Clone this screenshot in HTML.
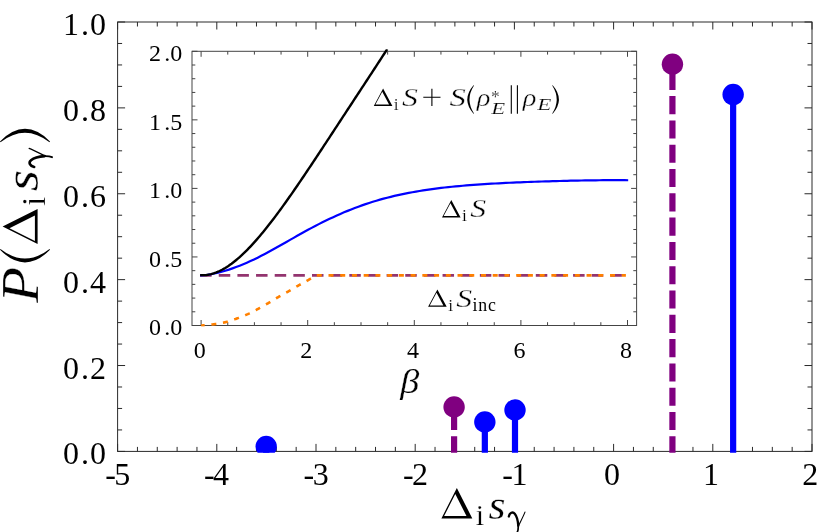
<!DOCTYPE html>
<html><head><meta charset="utf-8"><title>plot</title>
<style>
html,body{margin:0;padding:0;background:#fff;}
body{width:831px;height:532px;overflow:hidden;}
svg{display:block;will-change:transform;}
.t{font-family:"Liberation Serif",serif;fill:#000;}
.m{stroke:#fff;paint-order:fill stroke;}
</style></head><body>
<svg width="831" height="532" viewBox="0 0 831 532">
<rect width="831" height="532" fill="#fff"/>
<path d="M117.60 451.40v-7.50M117.60 22.00v7.50M137.44 451.40v-4.50M137.44 22.00v4.50M157.28 451.40v-4.50M157.28 22.00v4.50M177.12 451.40v-4.50M177.12 22.00v4.50M196.96 451.40v-4.50M196.96 22.00v4.50M216.80 451.40v-7.50M216.80 22.00v7.50M236.64 451.40v-4.50M236.64 22.00v4.50M256.48 451.40v-4.50M256.48 22.00v4.50M276.32 451.40v-4.50M276.32 22.00v4.50M296.16 451.40v-4.50M296.16 22.00v4.50M316.00 451.40v-7.50M316.00 22.00v7.50M335.84 451.40v-4.50M335.84 22.00v4.50M355.68 451.40v-4.50M355.68 22.00v4.50M375.52 451.40v-4.50M375.52 22.00v4.50M395.36 451.40v-4.50M395.36 22.00v4.50M415.20 451.40v-7.50M415.20 22.00v7.50M435.04 451.40v-4.50M435.04 22.00v4.50M454.88 451.40v-4.50M454.88 22.00v4.50M474.72 451.40v-4.50M474.72 22.00v4.50M494.56 451.40v-4.50M494.56 22.00v4.50M514.40 451.40v-7.50M514.40 22.00v7.50M534.24 451.40v-4.50M534.24 22.00v4.50M554.08 451.40v-4.50M554.08 22.00v4.50M573.92 451.40v-4.50M573.92 22.00v4.50M593.76 451.40v-4.50M593.76 22.00v4.50M613.60 451.40v-7.50M613.60 22.00v7.50M633.44 451.40v-4.50M633.44 22.00v4.50M653.28 451.40v-4.50M653.28 22.00v4.50M673.12 451.40v-4.50M673.12 22.00v4.50M692.96 451.40v-4.50M692.96 22.00v4.50M712.80 451.40v-7.50M712.80 22.00v7.50M732.64 451.40v-4.50M732.64 22.00v4.50M752.48 451.40v-4.50M752.48 22.00v4.50M772.32 451.40v-4.50M772.32 22.00v4.50M792.16 451.40v-4.50M792.16 22.00v4.50M812.00 451.40v-7.50M812.00 22.00v7.50M117.60 451.40h7.50M812.00 451.40h-7.50M117.60 429.93h4.50M812.00 429.93h-4.50M117.60 408.46h4.50M812.00 408.46h-4.50M117.60 386.99h4.50M812.00 386.99h-4.50M117.60 365.52h7.50M812.00 365.52h-7.50M117.60 344.05h4.50M812.00 344.05h-4.50M117.60 322.58h4.50M812.00 322.58h-4.50M117.60 301.11h4.50M812.00 301.11h-4.50M117.60 279.64h7.50M812.00 279.64h-7.50M117.60 258.17h4.50M812.00 258.17h-4.50M117.60 236.70h4.50M812.00 236.70h-4.50M117.60 215.23h4.50M812.00 215.23h-4.50M117.60 193.76h7.50M812.00 193.76h-7.50M117.60 172.29h4.50M812.00 172.29h-4.50M117.60 150.82h4.50M812.00 150.82h-4.50M117.60 129.35h4.50M812.00 129.35h-4.50M117.60 107.88h7.50M812.00 107.88h-7.50M117.60 86.41h4.50M812.00 86.41h-4.50M117.60 64.94h4.50M812.00 64.94h-4.50M117.60 43.47h4.50M812.00 43.47h-4.50M117.60 22.00h7.50M812.00 22.00h-7.50" stroke="#2a2a2a" stroke-width="1" fill="none"/>
<rect x="117.60" y="22.00" width="694.40" height="429.40" fill="none" stroke="#2a2a2a" stroke-width="1"/>
<text class="t" font-size="32" x="62.9 81.0 89.9" y="464.40">0.0</text>
<text class="t" font-size="32" x="62.9 81.0 89.9" y="378.52">0.2</text>
<text class="t" font-size="32" x="62.9 81.0 89.9" y="292.64">0.4</text>
<text class="t" font-size="32" x="62.9 81.0 89.9" y="206.76">0.6</text>
<text class="t" font-size="32" x="62.9 81.0 89.9" y="120.88">0.8</text>
<text class="t" font-size="32" x="62.9 81.0 89.9" y="35.00">1.0</text>
<text class="t" font-size="32" x="105.20 114.26" y="484.5">-5</text>
<text class="t" font-size="32" x="204.03 213.08" y="484.5">-4</text>
<text class="t" font-size="32" x="303.60 312.66" y="484.5">-3</text>
<text class="t" font-size="32" x="403.06 412.12" y="484.5">-2</text>
<text class="t" font-size="32" x="502.34 511.40" y="484.5">-1</text>
<text class="t" font-size="32" text-anchor="middle" x="611.90" y="484.5">0</text>
<text class="t" font-size="32" text-anchor="middle" x="711.10" y="484.5">1</text>
<text class="t" font-size="32" text-anchor="middle" x="810.30" y="484.5">2</text>
<clipPath id="cm"><rect x="117.60" y="0" width="694.40" height="452.80"/></clipPath>
<g clip-path="url(#cm)">
<line x1="266.20" y1="453.00" x2="266.20" y2="446.46" stroke="#0000ff" stroke-width="6.2"/>
<circle cx="266.20" cy="446.46" r="10.7" fill="#0000ff"/>
<line x1="454.09" y1="454.40" x2="454.09" y2="406.96" stroke="#800080" stroke-width="6.2" stroke-dasharray="18.1 6.2"/>
<circle cx="454.09" cy="406.96" r="10.7" fill="#800080"/>
<line x1="484.84" y1="453.00" x2="484.84" y2="421.99" stroke="#0000ff" stroke-width="6.2"/>
<circle cx="484.84" cy="421.99" r="10.7" fill="#0000ff"/>
<line x1="515.00" y1="453.00" x2="515.00" y2="410.01" stroke="#0000ff" stroke-width="6.2"/>
<circle cx="515.00" cy="410.01" r="10.7" fill="#0000ff"/>
<line x1="672.43" y1="454.40" x2="672.43" y2="64.21" stroke="#800080" stroke-width="6.2" stroke-dasharray="18.1 6.2"/>
<circle cx="672.43" cy="64.21" r="10.7" fill="#800080"/>
<line x1="733.14" y1="453.00" x2="733.14" y2="94.57" stroke="#0000ff" stroke-width="6.2"/>
<circle cx="733.14" cy="94.57" r="10.7" fill="#0000ff"/>
</g>
<rect x="192.00" y="51.30" width="444.60" height="274.20" fill="#fff"/>
<path d="M201.10 325.50v-5.50M201.10 51.30v5.50M227.75 325.50v-3.30M227.75 51.30v3.30M254.40 325.50v-3.30M254.40 51.30v3.30M281.05 325.50v-3.30M281.05 51.30v3.30M307.70 325.50v-5.50M307.70 51.30v5.50M334.35 325.50v-3.30M334.35 51.30v3.30M361.00 325.50v-3.30M361.00 51.30v3.30M387.65 325.50v-3.30M387.65 51.30v3.30M414.30 325.50v-5.50M414.30 51.30v5.50M440.95 325.50v-3.30M440.95 51.30v3.30M467.60 325.50v-3.30M467.60 51.30v3.30M494.25 325.50v-3.30M494.25 51.30v3.30M520.90 325.50v-5.50M520.90 51.30v5.50M547.55 325.50v-3.30M547.55 51.30v3.30M574.20 325.50v-3.30M574.20 51.30v3.30M600.85 325.50v-3.30M600.85 51.30v3.30M627.50 325.50v-5.50M627.50 51.30v5.50M192.00 325.50h5.50M636.60 325.50h-5.50M192.00 311.79h3.30M636.60 311.79h-3.30M192.00 298.08h3.30M636.60 298.08h-3.30M192.00 284.37h3.30M636.60 284.37h-3.30M192.00 270.66h3.30M636.60 270.66h-3.30M192.00 256.95h5.50M636.60 256.95h-5.50M192.00 243.24h3.30M636.60 243.24h-3.30M192.00 229.53h3.30M636.60 229.53h-3.30M192.00 215.82h3.30M636.60 215.82h-3.30M192.00 202.11h3.30M636.60 202.11h-3.30M192.00 188.40h5.50M636.60 188.40h-5.50M192.00 174.69h3.30M636.60 174.69h-3.30M192.00 160.98h3.30M636.60 160.98h-3.30M192.00 147.27h3.30M636.60 147.27h-3.30M192.00 133.56h3.30M636.60 133.56h-3.30M192.00 119.85h5.50M636.60 119.85h-5.50M192.00 106.14h3.30M636.60 106.14h-3.30M192.00 92.43h3.30M636.60 92.43h-3.30M192.00 78.72h3.30M636.60 78.72h-3.30M192.00 65.01h3.30M636.60 65.01h-3.30M192.00 51.30h5.50M636.60 51.30h-5.50" stroke="#444" stroke-width="1" fill="none"/>
<rect x="192.00" y="51.30" width="444.60" height="274.20" fill="none" stroke="#444" stroke-width="1"/>
<text class="t" font-size="24" x="148.9 164.3 170.3" y="335.30">0.0</text>
<text class="t" font-size="24" x="148.9 164.3 170.3" y="266.75">0.5</text>
<text class="t" font-size="24" x="148.9 164.3 170.3" y="198.20">1.0</text>
<text class="t" font-size="24" x="148.9 164.3 170.3" y="129.65">1.5</text>
<text class="t" font-size="24" x="148.9 164.3 170.3" y="61.10">2.0</text>
<text class="t" font-size="24" text-anchor="middle" x="199.70" y="358.1">0</text>
<text class="t" font-size="24" text-anchor="middle" x="306.30" y="358.1">2</text>
<text class="t" font-size="24" text-anchor="middle" x="412.90" y="358.1">4</text>
<text class="t" font-size="24" text-anchor="middle" x="519.50" y="358.1">6</text>
<text class="t" font-size="24" text-anchor="middle" x="626.10" y="358.1">8</text>
<clipPath id="ci"><rect x="192.00" y="49.30" width="444.60" height="277.20"/></clipPath>
<g clip-path="url(#ci)" fill="none">
<path d="M200.10 275.30H626.00" stroke="#93346f" stroke-width="2.7" stroke-dasharray="11.5 7.15"/>
<path d="M201.10 325.50 L201.68 325.47 L202.25 325.44 L202.83 325.41 L203.41 325.38 L203.98 325.34 L204.56 325.30 L205.13 325.25 L205.71 325.21 L206.29 325.16 L206.86 325.11 L207.44 325.06 L208.02 325.00 L208.59 324.94 L209.17 324.88 L209.75 324.81 L210.32 324.74 L210.90 324.66 L211.47 324.58 L212.05 324.50 L212.63 324.42 L213.20 324.34 L213.78 324.26 L214.36 324.18 L214.93 324.09 L215.51 324.01 L216.09 323.92 L216.66 323.84 L217.24 323.75 L217.82 323.66 L218.39 323.56 L218.97 323.47 L219.54 323.37 L220.12 323.27 L220.70 323.17 L221.27 323.06 L221.85 322.95 L222.43 322.84 L223.00 322.73 L223.58 322.61 L224.16 322.49 L224.73 322.36 L225.31 322.23 L225.88 322.09 L226.46 321.94 L227.04 321.79 L227.61 321.63 L228.19 321.46 L228.77 321.29 L229.34 321.11 L229.92 320.93 L230.50 320.74 L231.07 320.55 L231.65 320.35 L232.22 320.15 L232.80 319.95 L233.38 319.75 L233.95 319.55 L234.53 319.34 L235.11 319.13 L235.68 318.93 L236.26 318.72 L236.84 318.52 L237.41 318.31 L237.99 318.10 L238.56 317.89 L239.14 317.67 L239.72 317.45 L240.29 317.23 L240.87 317.01 L241.45 316.79 L242.02 316.56 L242.60 316.33 L243.18 316.09 L243.75 315.85 L244.33 315.62 L244.91 315.37 L245.48 315.13 L246.06 314.88 L246.63 314.63 L247.21 314.37 L247.79 314.12 L248.36 313.85 L248.94 313.59 L249.52 313.31 L250.09 313.04 L250.67 312.75 L251.25 312.47 L251.82 312.18 L252.40 311.89 L252.97 311.59 L253.55 311.29 L254.13 310.99 L254.70 310.69 L255.28 310.39 L255.86 310.08 L256.43 309.78 L257.01 309.47 L257.59 309.16 L258.16 308.85 L258.74 308.54 L259.31 308.23 L259.89 307.91 L260.47 307.59 L261.04 307.27 L261.62 306.95 L262.20 306.63 L262.77 306.30 L263.35 305.97 L263.93 305.64 L264.50 305.31 L265.08 304.98 L265.65 304.65 L266.23 304.31 L266.81 303.98 L267.38 303.64 L267.96 303.31 L268.54 302.97 L269.11 302.62 L269.69 302.28 L270.27 301.93 L270.84 301.58 L271.42 301.23 L271.99 300.87 L272.57 300.52 L273.15 300.17 L273.72 299.81 L274.30 299.46 L274.88 299.11 L275.45 298.76 L276.03 298.41 L276.61 298.06 L277.18 297.72 L277.76 297.38 L278.34 297.05 L278.91 296.71 L279.49 296.38 L280.06 296.06 L280.64 295.73 L281.22 295.41 L281.79 295.08 L282.37 294.76 L282.95 294.44 L283.52 294.12 L284.10 293.80 L284.68 293.48 L285.25 293.15 L285.83 292.83 L286.40 292.51 L286.98 292.18 L287.56 291.85 L288.13 291.52 L288.71 291.19 L289.29 290.86 L289.86 290.52 L290.44 290.18 L291.02 289.84 L291.59 289.51 L292.17 289.17 L292.74 288.83 L293.32 288.49 L293.90 288.15 L294.47 287.81 L295.05 287.47 L295.63 287.13 L296.20 286.79 L296.78 286.46 L297.36 286.13 L297.93 285.80 L298.51 285.47 L299.08 285.14 L299.66 284.82 L300.24 284.50 L300.81 284.19 L301.39 283.87 L301.97 283.56 L302.54 283.24 L303.12 282.93 L303.70 282.61 L304.27 282.30 L304.85 281.98 L305.43 281.66 L306.00 281.34 L306.58 281.02 L307.15 280.69 L307.73 280.36 L308.31 280.03 L308.88 279.69 L309.46 279.35 L310.04 279.00 L310.61 278.66 L311.19 278.30 L311.77 277.95 L312.34 277.59 L312.92 277.23 L313.49 276.87 L314.07 276.51 L314.65 276.14 L315.22 275.77 L315.80 275.40 L625.90 275.40" stroke="#ff8000" stroke-width="2.6" stroke-dasharray="5 6.73" stroke-dashoffset="1.4"/>
<path d="M200.10 275.52 L203.70 275.23 L207.29 274.79 L210.89 274.22 L214.49 273.51 L218.09 272.69 L221.68 271.75 L225.28 270.72 L228.88 269.59 L232.48 268.37 L236.07 267.07 L239.67 265.69 L243.27 264.23 L246.87 262.69 L250.46 261.08 L254.06 259.40 L257.66 257.65 L261.26 255.84 L264.85 253.97 L268.45 252.04 L272.05 250.08 L275.65 248.08 L279.24 246.05 L282.84 244.00 L286.44 241.95 L290.04 239.89 L293.63 237.84 L297.23 235.81 L300.83 233.79 L304.43 231.79 L308.02 229.83 L311.62 227.89 L315.22 225.99 L318.82 224.14 L322.41 222.32 L326.01 220.54 L329.61 218.81 L333.21 217.13 L336.80 215.49 L340.40 213.90 L344.00 212.36 L347.60 210.87 L351.19 209.43 L354.79 208.04 L358.39 206.69 L361.99 205.40 L365.58 204.16 L369.18 202.96 L372.78 201.82 L376.38 200.72 L379.97 199.68 L383.57 198.68 L387.17 197.72 L390.77 196.81 L394.36 195.94 L397.96 195.12 L401.56 194.33 L405.16 193.59 L408.75 192.88 L412.35 192.21 L415.95 191.57 L419.55 190.96 L423.14 190.39 L426.74 189.84 L430.34 189.32 L433.94 188.83 L437.53 188.37 L441.13 187.93 L444.73 187.51 L448.33 187.12 L451.92 186.74 L455.52 186.38 L459.12 186.05 L462.72 185.73 L466.31 185.43 L469.91 185.14 L473.51 184.87 L477.11 184.61 L480.70 184.36 L484.30 184.13 L487.90 183.90 L491.50 183.69 L495.09 183.49 L498.69 183.29 L502.29 183.11 L505.89 182.93 L509.48 182.76 L513.08 182.60 L516.68 182.45 L520.28 182.30 L523.87 182.15 L527.47 182.02 L531.07 181.88 L534.67 181.76 L538.26 181.63 L541.86 181.51 L545.46 181.40 L549.06 181.29 L552.65 181.18 L556.25 181.08 L559.85 180.99 L563.45 180.89 L567.04 180.80 L570.64 180.72 L574.24 180.64 L577.84 180.57 L581.43 180.50 L585.03 180.43 L588.63 180.37 L592.23 180.32 L595.82 180.28 L599.42 180.24 L603.02 180.21 L606.62 180.18 L610.21 180.17 L613.81 180.16 L617.41 180.17 L621.01 180.18 L624.60 180.21 L628.20 180.24" stroke="#0000ff" stroke-width="2.2"/>
<path d="M200.10 275.08 L201.67 275.16 L203.24 275.16 L204.82 275.09 L206.39 274.95 L207.96 274.73 L209.53 274.43 L211.11 274.07 L212.68 273.64 L214.25 273.15 L215.82 272.59 L217.39 271.96 L218.97 271.27 L220.54 270.52 L222.11 269.72 L223.68 268.85 L225.26 267.93 L226.83 266.95 L228.40 265.92 L229.97 264.83 L231.55 263.70 L233.12 262.51 L234.69 261.28 L236.26 260.00 L237.83 258.67 L239.41 257.30 L240.98 255.89 L242.55 254.43 L244.12 252.94 L245.70 251.40 L247.27 249.83 L248.84 248.21 L250.41 246.56 L251.98 244.88 L253.56 243.16 L255.13 241.41 L256.70 239.63 L258.27 237.82 L259.85 235.97 L261.42 234.10 L262.99 232.20 L264.56 230.28 L266.14 228.33 L267.71 226.35 L269.28 224.35 L270.85 222.33 L272.42 220.28 L274.00 218.21 L275.57 216.13 L277.14 214.02 L278.71 211.90 L280.29 209.75 L281.86 207.59 L283.43 205.42 L285.00 203.22 L286.57 201.02 L288.15 198.80 L289.72 196.56 L291.29 194.32 L292.86 192.06 L294.44 189.79 L296.01 187.50 L297.58 185.21 L299.15 182.91 L300.73 180.60 L302.30 178.28 L303.87 175.96 L305.44 173.62 L307.01 171.28 L308.59 168.94 L310.16 166.58 L311.73 164.23 L313.30 161.86 L314.88 159.49 L316.45 157.12 L318.02 154.75 L319.59 152.37 L321.16 149.99 L322.74 147.60 L324.31 145.21 L325.88 142.82 L327.45 140.43 L329.03 138.04 L330.60 135.64 L332.17 133.25 L333.74 130.85 L335.32 128.46 L336.89 126.06 L338.46 123.66 L340.03 121.26 L341.60 118.86 L343.18 116.46 L344.75 114.07 L346.32 111.67 L347.89 109.27 L349.47 106.87 L351.04 104.47 L352.61 102.08 L354.18 99.68 L355.75 97.28 L357.33 94.89 L358.90 92.49 L360.47 90.09 L362.04 87.70 L363.62 85.30 L365.19 82.90 L366.76 80.50 L368.33 78.10 L369.91 75.70 L371.48 73.30 L373.05 70.90 L374.62 68.49 L376.19 66.09 L377.77 63.68 L379.34 61.27 L380.91 58.86 L382.48 56.44 L384.06 54.02 L385.63 51.59 L387.20 49.17" stroke="#000" stroke-width="2.4"/>
</g>
<path fill="#000" fill-rule="evenodd" d="M373.80 105.90L383.10 88.60L392.40 105.90ZM375.45 104.50L382.25 91.86L389.05 104.50Z"/><text class="t m" stroke-width="0.18" font-size="17.50" transform="translate(394.20 109.60) scale(1.000 1)" x="-0.37" y="0">i</text><text class="t m" stroke-width="0.36" font-size="25.50" transform="translate(402.40 105.90) scale(1.246 1)" x="-0.30" y="0" font-style="italic">S</text>
<path stroke="#000" stroke-width="1.10" fill="none" d="M423.30 97.30H440.50M431.90 88.70V105.90"/>
<text class="t m" stroke-width="0.36" font-size="25.50" transform="translate(450.00 105.90) scale(1.279 1)" x="-0.30" y="0" font-style="italic">S</text>
<path fill="#000" d="M473.50 85.30Q461.10 99.55 473.50 113.80L474.00 113.55Q465.00 99.55 474.00 85.55Z"/>
<text class="t m" stroke-width="0.36" font-size="25.50" transform="translate(476.00 105.90) scale(1.114 1)" x="0.65" y="0" font-style="italic">ρ</text>
<text class="t m" stroke-width="0.18" font-size="17.50" transform="translate(491.80 101.70) scale(1.000 1)" x="-0.85" y="0">*</text>
<text class="t m" stroke-width="0.18" font-size="17.50" transform="translate(491.00 113.70) scale(1.300 1)" x="0.21" y="0" font-style="italic">E</text>
<path stroke="#000" stroke-width="1.1" d="M511.3 85.3V113.8M517.4 85.3V113.8"/>
<text class="t m" stroke-width="0.36" font-size="25.50" transform="translate(522.00 105.90) scale(1.114 1)" x="0.65" y="0" font-style="italic">ρ</text>
<text class="t m" stroke-width="0.18" font-size="17.50" transform="translate(536.90 110.20) scale(1.319 1)" x="0.21" y="0" font-style="italic">E</text>
<path fill="#000" d="M552.70 85.30Q565.10 99.55 552.70 113.80L552.20 113.55Q561.20 99.55 552.20 85.55Z"/>
<path fill="#000" fill-rule="evenodd" d="M442.00 217.40L451.30 200.10L460.60 217.40ZM443.65 216.00L450.45 203.36L457.25 216.00Z"/><text class="t m" stroke-width="0.18" font-size="17.50" transform="translate(462.40 221.10) scale(1.000 1)" x="-0.37" y="0">i</text><text class="t m" stroke-width="0.36" font-size="25.50" transform="translate(470.60 217.40) scale(1.246 1)" x="-0.30" y="0" font-style="italic">S</text>
<path fill="#000" fill-rule="evenodd" d="M428.10 306.80L437.40 289.50L446.70 306.80ZM429.75 305.40L436.55 292.76L443.35 305.40Z"/><text class="t m" stroke-width="0.18" font-size="17.50" transform="translate(448.50 310.50) scale(1.000 1)" x="-0.37" y="0">i</text><text class="t m" stroke-width="0.36" font-size="25.50" transform="translate(456.70 306.80) scale(1.246 1)" x="-0.30" y="0" font-style="italic">S</text>
<text class="t" font-size="17.8" x="472.4" y="311.0" letter-spacing="0.9">inc</text>
<text class="t m" stroke-width="0.25" font-size="34.68" transform="translate(399.60 393.20) scale(1.102 1)" x="0.56" y="0" font-style="italic">β</text>
<path fill="#000" fill-rule="evenodd" d="M441.40 518.40L456.85 488.00L472.30 518.40ZM444.12 516.00L455.30 494.00L466.48 516.00Z"/>
<text class="t m" stroke-width="0.25" font-size="30.00" transform="translate(476.30 524.90) scale(1.000 1)" x="-0.63" y="0">i</text>
<text class="t m" stroke-width="0.25" font-size="39.09" transform="translate(489.00 519.00) scale(1.122 1)" x="-0.48" y="0" font-style="italic">s</text>
<g fill="none" stroke="#000" stroke-linecap="round"><path stroke-width="2.30" d="M508.81 516.49 C509.66 512.77 512.72 511.25 514.76 513.73 C516.80 516.22 517.99 521.46 518.25 525.60"/><path stroke-width="1.70" d="M518.25 525.60 C518.33 528.36 517.99 530.57 517.31 532.09"/><path stroke-width="1.10" d="M524.96 512.08 C523.26 516.49 520.20 522.15 518.25 526.29"/></g>
<g transform="translate(37.6,304) rotate(-90)">
<text class="t m" stroke-width="0.25" font-size="52.69" transform="translate(1.00 0.00) scale(1.108 1)" x="0.28" y="0" font-style="italic">P</text>
<path fill="#000" d="M54.20 -37.60Q29.00 -12.60 54.20 12.40L55.10 11.95Q35.90 -12.60 55.10 -37.15Z"/>
<path fill="#000" fill-rule="evenodd" d="M59.90 0.00L77.50 -35.00L95.10 0.00ZM62.96 -2.70L75.75 -28.14L88.54 -2.70Z"/>
<text class="t m" stroke-width="0.25" font-size="34.00" transform="translate(98.80 6.90) scale(1.000 1)" x="-0.71" y="0">i</text>
<text class="t m" stroke-width="0.25" font-size="47.82" transform="translate(113.50 0.30) scale(1.146 1)" x="-0.58" y="0" font-style="italic">s</text>
<g fill="none" stroke="#000" stroke-linecap="round"><path stroke-width="2.60" d="M136.99 -3.43 C137.97 -7.69 141.50 -9.43 143.85 -6.59 C146.20 -3.74 147.57 2.26 147.87 7.00"/><path stroke-width="1.90" d="M147.87 7.00 C147.96 10.16 147.57 12.69 146.79 14.43"/><path stroke-width="1.20" d="M155.61 -8.48 C153.65 -3.43 150.12 3.05 147.87 7.79"/></g>
<path fill="#000" d="M162.60 -37.60Q187.80 -12.60 162.60 12.40L161.70 11.95Q180.90 -12.60 161.70 -37.15Z"/>
</g>
</svg>
</body></html>
